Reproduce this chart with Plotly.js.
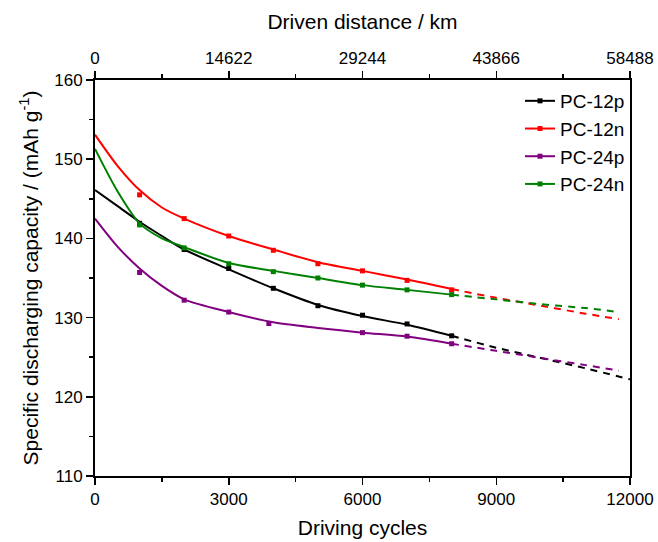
<!DOCTYPE html>
<html>
<head>
<meta charset="utf-8">
<script src="https://cdn.plot.ly/plotly-3.0.1.min.js"></script>
<style>html,body{margin:0;padding:0;background:#fff;}#chart{width:658px;height:542px;}</style>
</head>
<body>
<div id="chart"></div>
<script>
// Series names and colours
const seriesNames = ["PC-12p", "PC-12n", "PC-24p", "PC-24n"];
const seriesColors = ["#000000", "#ff0000", "#800080", "#008000"];

// Measured points (markers)
const markerX_12p = [1000, 2000, 3000, 4000, 5000, 6000, 7000, 8000];
const markerY_12p = [141.9, 138.6, 136.2, 133.7, 131.5, 130.3, 129.2, 127.7];
const markerX_12n = [1000, 2000, 3000, 4000, 5000, 6000, 7000, 8000];
const markerY_12n = [145.5, 142.5, 140.3, 138.5, 136.8, 135.9, 134.7, 133.5];
const markerX_24p = [1000, 2000, 3000, 3900, 6000, 7000, 8000];
const markerY_24p = [135.7, 132.2, 130.7, 129.25, 128.1, 127.65, 126.7];
const markerX_24n = [1000, 2000, 3000, 4000, 5000, 6000, 7000, 8000];
const markerY_24n = [141.7, 138.8, 136.8, 135.8, 135.0, 134.1, 133.5, 132.9];

// Fitted curves
const fitX = [0, 500, 1000, 1500, 2000, 3000, 4000, 5000, 6000, 7000, 8000];
const fitY_12p = [146.1, 144.1, 142.1, 140.3, 138.6, 136.1, 133.7, 131.6, 130.2, 129.1, 127.7];
const fitY_12n = [153.1, 149.2, 146.1, 143.9, 142.5, 140.3, 138.6, 137.0, 135.9, 134.8, 133.6];
const fitY_24p = [142.5, 139.0, 136.2, 134.0, 132.3, 130.7, 129.4, 128.7, 128.1, 127.6, 126.7];
const fitY_24n = [151.3, 146.0, 141.9, 140.0, 138.9, 136.9, 135.9, 135.0, 134.1, 133.5, 132.9];

// Extrapolated (dashed) curves
const extX_12p = [8000, 9000, 10000, 11000, 12000];
const extY_12p = [127.7, 126.2, 124.9, 123.6, 122.2];
const extX_12n = [8000, 9000, 10000, 11000, 11750];
const extY_12n = [133.6, 132.5, 131.5, 130.5, 129.8];
const extX_24p = [8000, 9000, 10000, 11000, 11750];
const extY_24p = [126.7, 125.8, 124.9, 124.0, 123.3];
const extX_24n = [8000, 9000, 10000, 11000, 11750];
const extY_24n = [132.9, 132.3, 131.7, 131.2, 130.7];

// Axis ticks
const cycleTicks = [0, 3000, 6000, 9000, 12000];
const cycleLabels = ["0", "3000", "6000", "9000", "12000"];
const distanceLabels = ["0", "14622", "29244", "43866", "58488"];
const capTicks = [110, 120, 130, 140, 150, 160];

const markers = [[markerX_12p, markerY_12p], [markerX_12n, markerY_12n], [markerX_24p, markerY_24p], [markerX_24n, markerY_24n]];
const fits = [fitY_12p, fitY_12n, fitY_24p, fitY_24n];
const exts = [[extX_12p, extY_12p], [extX_12n, extY_12n], [extX_24p, extY_24p], [extX_24n, extY_24n]];

const traces = [];
for (let i = 0; i < 4; i++) {
  traces.push({x: fitX, y: fits[i], mode: 'lines', line: {color: seriesColors[i], width: 2, shape: 'spline', smoothing: 0.8}, showlegend: false, hoverinfo: 'skip'});
  traces.push({x: exts[i][0], y: exts[i][1], mode: 'lines', line: {color: seriesColors[i], width: 2, dash: '7px,6px', shape: 'spline'}, showlegend: false, hoverinfo: 'skip'});
  traces.push({x: markers[i][0], y: markers[i][1], mode: 'markers', marker: {color: seriesColors[i], symbol: 'square', size: 5}, showlegend: false});
}
for (let i = 0; i < 4; i++) {
  traces.push({x: [null], y: [null], name: seriesNames[i], mode: 'lines+markers', line: {color: seriesColors[i], width: 2}, marker: {color: seriesColors[i], symbol: 'square', size: 5}});
}
// dummy for top axis
traces.push({x: [cycleTicks[0], cycleTicks[cycleTicks.length - 1]], y: [null, null], xaxis: 'x2', mode: 'lines', showlegend: false, hoverinfo: 'skip'});

const font = {family: 'Liberation Sans, Arial, sans-serif', color: '#000'};
const layout = {
  width: 658, height: 542,
  margin: {l: 95, r: 28, t: 80, b: 66},
  paper_bgcolor: '#fff', plot_bgcolor: '#fff',
  font: Object.assign({size: 17}, font),
  showlegend: true,
  legend: {x: 1, xanchor: 'right', y: 0.995, yanchor: 'top', bgcolor: 'rgba(0,0,0,0)', font: Object.assign({size: 19}, font), tracegroupgap: 0},
  xaxis: {
    range: [0, 12000], tickvals: cycleTicks, ticktext: cycleLabels, ticks: 'outside', ticklen: 7, tickwidth: 1.5, tickcolor: '#000',
    showline: true, linecolor: '#000', linewidth: 2, mirror: false, showgrid: false, zeroline: false,
    tickfont: Object.assign({size: 17}, font),
    minor: {ticks: 'outside', ticklen: 4, tickwidth: 1.5, tickcolor: '#000', dtick: 1500, showgrid: false},
    title: {text: 'Driving cycles', font: Object.assign({size: 21}, font), standoff: 12}
  },
  xaxis2: {
    overlaying: 'x', side: 'top', range: [0, 12000], tickvals: cycleTicks, ticktext: distanceLabels,
    ticks: 'outside', ticklen: 7, tickwidth: 1.5, tickcolor: '#000',
    showline: true, linecolor: '#000', linewidth: 2, showgrid: false, zeroline: false,
    tickfont: Object.assign({size: 17}, font),
    minor: {ticks: 'outside', ticklen: 4, tickwidth: 1.5, tickcolor: '#000', dtick: 1500, showgrid: false},
    title: {text: 'Driven distance / km', font: Object.assign({size: 21}, font), standoff: 14}
  },
  yaxis: {
    range: [110, 160], tickvals: capTicks, ticks: 'outside', ticklen: 7, tickwidth: 1.5, tickcolor: '#000',
    showline: true, linecolor: '#000', linewidth: 2, mirror: true, showgrid: false, zeroline: false,
    tickfont: Object.assign({size: 17}, font),
    minor: {ticks: 'outside', ticklen: 4, tickwidth: 1.5, tickcolor: '#000', dtick: 5, showgrid: false},
    title: {text: 'Specific discharging capacity / (mAh g<sup>-1</sup>)', font: Object.assign({size: 21}, font), standoff: 10}
  }
};

Plotly.newPlot('chart', traces, layout, {displayModeBar: false, staticPlot: true});
</script>
</body>
</html>
